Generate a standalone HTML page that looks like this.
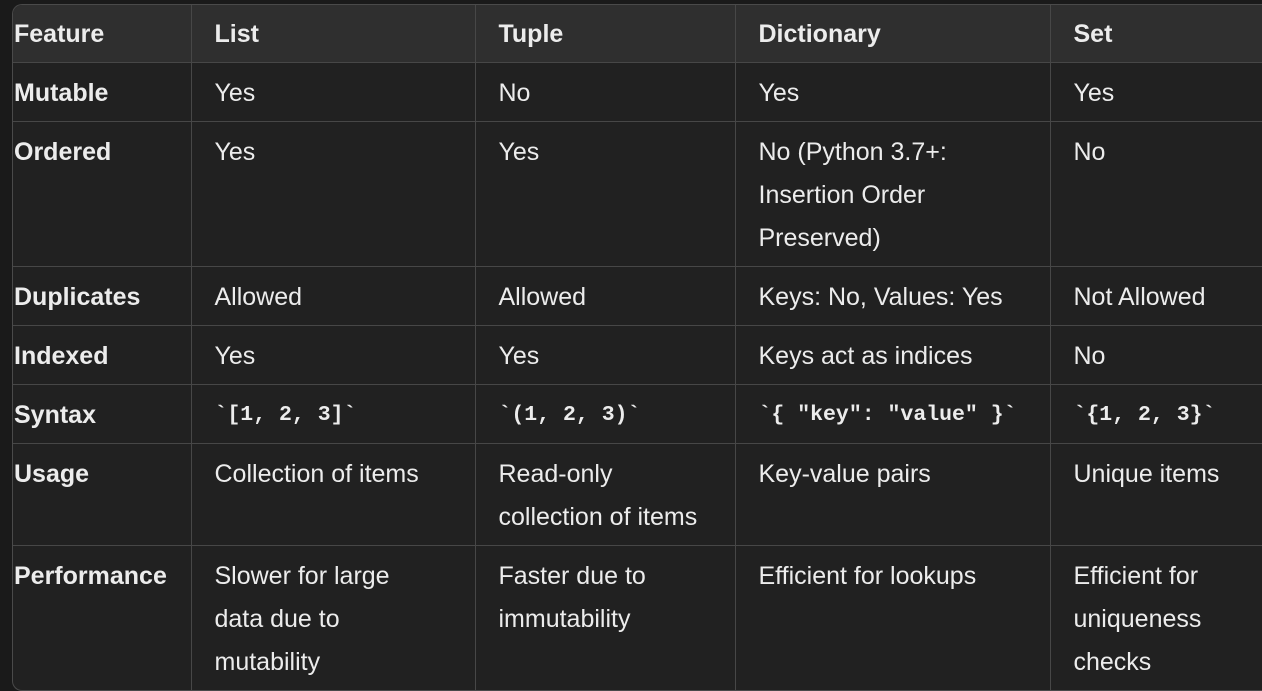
<!DOCTYPE html>
<html><head><meta charset="utf-8"><style>
html,body{margin:0;padding:0;background:#1a1a1a;width:1262px;height:690px;overflow:hidden}
.wrap{position:absolute;left:12px;top:4px;width:1262px;height:685px;border:1px solid #4a4a4a;border-right:none;border-radius:10px 0 0 10px;overflow:hidden;background:#212121}
table{border-collapse:collapse;font-family:"Liberation Sans",sans-serif;font-size:25px;color:#ececec;table-layout:fixed;width:1279px}
td,th{border:1px solid #474747;vertical-align:top;text-align:left;padding:9px 0 6px 23px;line-height:43px;box-sizing:content-box}
tr:first-child th{border-top:none}
td:first-child,th:first-child{border-left:none;padding-left:1px;font-weight:bold}
th{font-weight:bold;background:#2f2f2f;padding-top:8px;padding-bottom:6px}
code{font-family:"Liberation Mono","DejaVu Sans Mono",monospace;font-weight:bold;font-size:21.5px;display:inline-block;height:43px;line-height:43px;vertical-align:top}
</style></head><body>
<div class="wrap"><table>
<colgroup><col style="width:178px"><col style="width:284px"><col style="width:260px"><col style="width:315px"><col style="width:242px"></colgroup>
<tr><th>Feature</th><th>List</th><th>Tuple</th><th>Dictionary</th><th>Set</th></tr>
<tr><td>Mutable</td><td>Yes</td><td>No</td><td>Yes</td><td>Yes</td></tr>
<tr><td>Ordered</td><td>Yes</td><td>Yes</td><td>No (Python 3.7+:<br>Insertion Order<br>Preserved)</td><td>No</td></tr>
<tr><td>Duplicates</td><td>Allowed</td><td>Allowed</td><td>Keys: No, Values: Yes</td><td>Not Allowed</td></tr>
<tr><td>Indexed</td><td>Yes</td><td>Yes</td><td>Keys act as indices</td><td>No</td></tr>
<tr><td>Syntax</td><td><code>`[1, 2, 3]`</code></td><td><code>`(1, 2, 3)`</code></td><td><code>`{ "key": "value" }`</code></td><td><code>`{1, 2, 3}`</code></td></tr>
<tr><td>Usage</td><td>Collection of items</td><td>Read-only<br>collection of items</td><td>Key-value pairs</td><td>Unique items</td></tr>
<tr><td>Performance</td><td>Slower for large<br>data due to<br>mutability</td><td>Faster due to<br>immutability</td><td>Efficient for lookups</td><td>Efficient for<br>uniqueness<br>checks</td></tr>
</table></div>
</body></html>
